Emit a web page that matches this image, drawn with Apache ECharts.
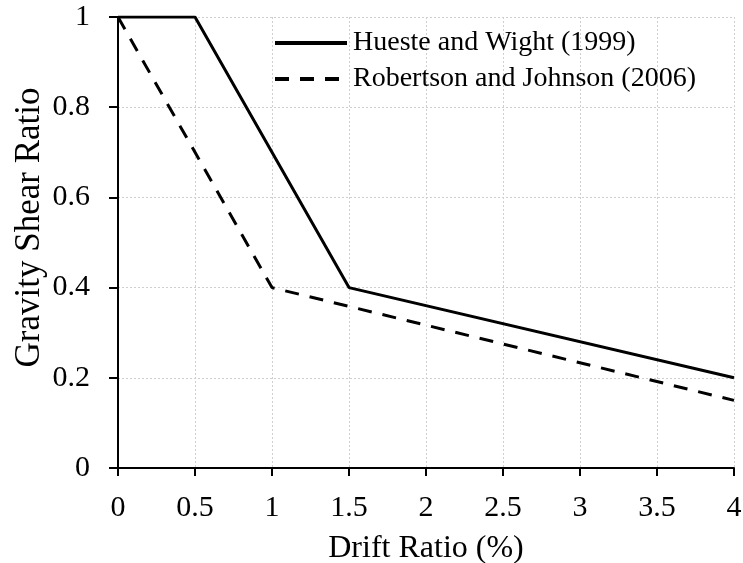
<!DOCTYPE html>
<html><head><meta charset="utf-8">
<script src="https://cdn.jsdelivr.net/npm/echarts@6/dist/echarts.min.js"></script>
<style>html,body{margin:0;padding:0;background:#fff}#c{width:743px;height:563px}</style>
</head><body><div id="c"></div>
<script>
const huesteX = [0, 0.5, 1.5, 4];
const huesteY = [1, 1, 0.4, 0.2];
const robertsonX = [0, 1, 4];
const robertsonY = [1, 0.4, 0.15];
const seriesNames = ['Hueste and Wight (1999)', 'Robertson and Johnson (2006)'];
const xTicks = [0, 0.5, 1, 1.5, 2, 2.5, 3, 3.5, 4];
const yTicks = [0, 0.2, 0.4, 0.6, 0.8, 1];

const font = '"Liberation Serif","Times New Roman",serif';
const chart = echarts.init(document.getElementById('c'), null, {renderer: 'canvas'});
const pair = (xs, ys) => xs.map((x, i) => [x, ys[i]]);
chart.setOption({
  animation: false,
  backgroundColor: '#fff',
  grid: {left: 118, right: 9, top: 17, bottom: 95, containLabel: false, outerBoundsMode: 'none'},
  legend: {
    orient: 'vertical', left: 268, top: 24, itemWidth: 72, itemHeight: 14, itemGap: 8,
    textStyle: {fontFamily: font, fontSize: 28, lineHeight: 28, color: '#000', padding: [0, 0, 0, 1]},
    itemStyle: {color: 'rgba(0,0,0,0)', borderWidth: 0, opacity: 0},
    lineStyle: {width: 4},
    data: seriesNames
  },
  xAxis: {
    type: 'value', min: 0, max: 4, interval: 0.5,
    name: 'Drift Ratio (%)', nameLocation: 'middle', nameGap: 65, nameMoveOverlap: false,
    nameTextStyle: {fontFamily: font, fontSize: 32, color: '#000'},
    axisLine: {show: true, onZero: false, lineStyle: {color: '#000', width: 2}},
    axisTick: {show: true, inside: false, length: 8, lineStyle: {color: '#000', width: 2}},
    axisLabel: {fontFamily: font, fontSize: 30, color: '#000', margin: 25,
      formatter: v => xTicks.includes(v) ? String(v) : ''},
    splitLine: {show: true, lineStyle: {color: '#cfcfcf', type: [2, 2], width: 1}}
  },
  yAxis: {
    type: 'value', min: 0, max: 1, interval: 0.2,
    name: 'Gravity Shear Ratio', nameLocation: 'middle', nameGap: 71, nameMoveOverlap: false,
    nameTextStyle: {fontFamily: font, fontSize: 35, color: '#000', padding: [0, 0, 0, 30]},
    axisLine: {show: true, onZero: false, lineStyle: {color: '#000', width: 2}},
    axisTick: {show: true, inside: false, length: 9, lineStyle: {color: '#000', width: 2}},
    axisLabel: {fontFamily: font, fontSize: 30, color: '#000', margin: 28,
      formatter: v => yTicks.some(t => Math.abs(t - v) < 1e-9) ? String(+v.toFixed(1)) : ''},
    splitLine: {show: true, lineStyle: {color: '#cfcfcf', type: [2, 2], width: 1}}
  },
  series: [
    {name: seriesNames[0], type: 'line', data: pair(huesteX, huesteY), symbol: 'none',
      lineStyle: {color: '#000', width: 3}, itemStyle: {color: '#000'}},
    {name: seriesNames[1], type: 'line', data: pair(robertsonX, robertsonY), symbol: 'none',
      lineStyle: {color: '#000', width: 3, type: [14, 11]}, itemStyle: {color: '#000'}}
  ]
});
</script></body></html>
